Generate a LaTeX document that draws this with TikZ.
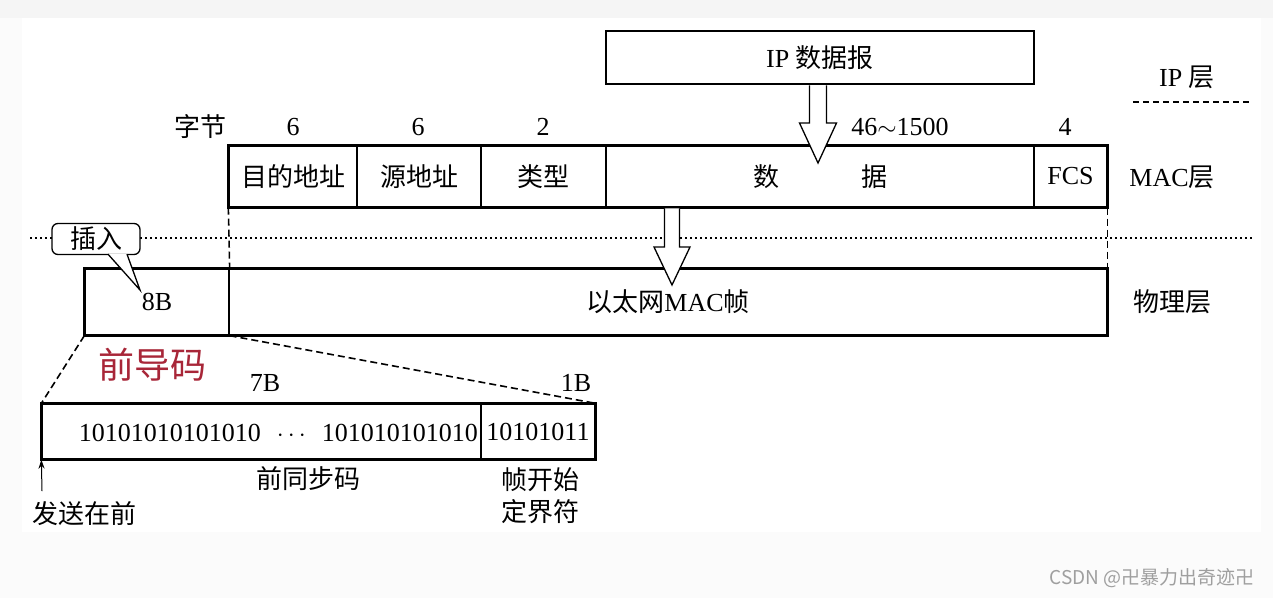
\documentclass[tikz,border=0pt]{standalone}
\usepackage{fontspec}
\setmainfont{Liberation Serif}
\newfontfamily\cjk{Noto Sans CJK SC}
\newcommand{\zh}[1]{{\cjk #1}}
\usetikzlibrary{arrows.meta}
\pgfdeclarelayer{bg}
\pgfsetlayers{bg,main}
\definecolor{leadred}{RGB}{168,38,56}

\begin{document}
\begin{tikzpicture}[x=1pt, y=-1pt, font=\fontsize{26}{32}\selectfont,
        field/.style={draw, line width=1.3pt, inner sep=0pt},
        word/.style={inner sep=0pt},
        heavy/.style={line width=2.6pt},
        guide/.style={line width=1.6pt, dash pattern=on 7pt off 4pt},
        hollow/.style={draw, line width=1.3pt, fill=white, line join=miter}]
        \useasboundingbox (0,0) rectangle (1273,598);
        \node (ip) [field, heavy, minimum width=428pt, minimum height=53pt] at (820, 57.5) {IP \zh{数据报}};
        \node (iplayer) [word] at (1187, 77) {IP \zh{层}};
        \node (bytes) [word] at (200, 127) {\zh{字节}};
        \node (ndst) [word] at (293, 127) {6};
        \node (nsrc) [word] at (418, 127) {6};
        \node (ntype) [word] at (543, 127) {2};
        \node (ndata) [word] at (900, 127) {46$\sim$1500};
        \node (nfcs) [word] at (1065, 127) {4};
        \node (dst) [field, minimum width=128pt, minimum height=61pt] at (293, 176.5) {\zh{目的地址}};
        \node (src) [field, minimum width=124pt, minimum height=61pt] at (419, 176.5) {\zh{源地址}};
        \node (type) [field, minimum width=125pt, minimum height=61pt] at (543.5, 176.5) {\zh{类型}};
        \node (data) [field, minimum width=428pt, minimum height=61pt] at (820, 176.5) {\zh{数}\hspace{82pt}\zh{据}};
        \node (fcs) [field, minimum width=73pt, minimum height=61pt] at (1070.5, 176.5) {FCS};
        \node (maclayer) [word] at (1172, 177) {MAC\zh{层}};
        \node (pre8) [field, minimum width=144pt, minimum height=66pt] at (157, 302) {8B};
        \node (frame) [field, minimum width=878pt, minimum height=66pt] at (668, 302) {\zh{以太网}MAC\zh{帧}};
        \node (phylayer) [word] at (1172, 302) {\zh{物理层}};
        \node (lead) [word, text=leadred, font=\cjk\fontsize{36}{40}\selectfont] at (152, 365) {前导码};
        \node (n7b) [word] at (265, 383) {7B};
        \node (n1b) [word] at (576, 383) {1B};
        \node (sync) [field, minimum width=439pt, minimum height=55pt] at (261.5, 431.5) {};
        \node (sfd) [field, minimum width=114pt, minimum height=55pt] at (538, 431.5) {10101011};
        \node (syncbits) [word, anchor=east] at (478, 433) {10101010101010\hspace{16pt}$\cdots$\hspace{16pt}101010101010};
        \node (syncname) [word] at (308, 479) {\zh{前同步码}};
        \node (sfdname) [word, align=center] at (540, 496) {\zh{帧开始}\\\zh{定界符}};
        \node (send) [word] at (84, 514) {\zh{发送在前}};
        \node (mark) [word, text=gray!75, font=\cjk\fontsize{19}{22}\selectfont] at (1152, 578) {CSDN @卍暴力出奇迹卍};
        \coordinate (drop1) at (818, 85.4);
        \coordinate (drop2) at (672, 208.4);
        \coordinate (insertpt) at (140, 290);
        \coordinate (sendpt) at (42, 491);
        \draw[heavy] (dst.north west) rectangle (fcs.south east);
        \draw[heavy] (pre8.north west) rectangle (frame.south east);
        \draw[heavy] (sync.north west) rectangle (sfd.south east);
        \draw[guide] (dst.south west) -- (pre8.north east);
        \draw[guide] (fcs.south east) -- (frame.north east);
        \draw[guide] (pre8.south west) -- (sync.north west);
        \draw[guide] (pre8.south east) -- (sfd.north east);
        \draw[hollow] ([xshift=-8.5pt]drop1) -- ++(0,37.6) -- ++(-10,0) -- ++(18.5,40) -- ++(18.5,-40) -- ++(-10,0) -- ++(0,-37.6);
        \draw[hollow] ([xshift=-7.5pt]drop2) -- ++(0,38.6) -- ++(-10.5,0) -- ++(18,38) -- ++(18,-38) -- ++(-10.5,0) -- ++(0,-38.6);
        \node (insert) [field, rounded corners=6pt, fill=white, minimum width=88pt, minimum height=31pt] at (96, 239) {\zh{插入}};
        \draw[line width=1.3pt, fill=white] ([xshift=12pt, yshift=1pt]insert.south) -- (insertpt) -- ([xshift=31pt, yshift=1pt]insert.south);
        \draw[-{Stealth[length=9pt, width=6pt]}, line width=1pt] (sendpt) -- (sync.south west);
        \begin{pgfonlayer}{bg}
                \fill[gray!3] (0,0) rectangle (1273,598);
                \fill[gray!8] (0,0) rectangle (1273,18);
                \fill[white] (22,18) rectangle (1261,532);
                \draw[line width=1.3pt, dash pattern=on 1.5pt off 3.5pt] (30,238) -- (1255,238);
                \draw[line width=1.3pt, dash pattern=on 6pt off 4pt] (1133,102) -- (1250,102);
        \end{pgfonlayer}
\end{tikzpicture}
\end{document}
